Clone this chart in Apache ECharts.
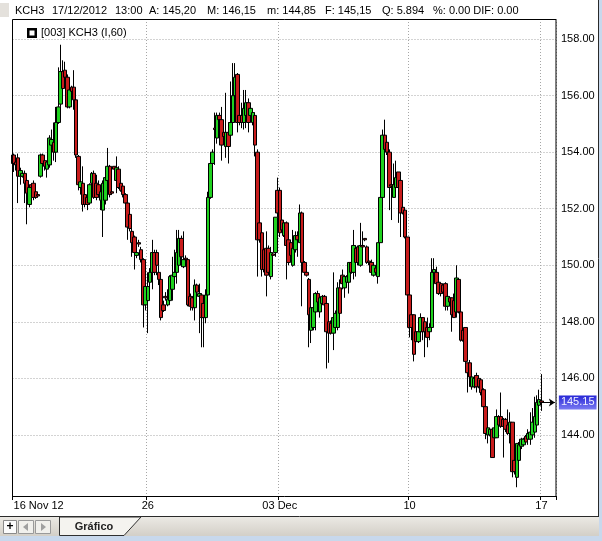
<!DOCTYPE html>
<html><head><meta charset="utf-8">
<script src="https://cdn.jsdelivr.net/npm/echarts/dist/echarts.min.js"></script>
<style>html,body{margin:0;padding:0;background:#fff;overflow:hidden}#c{width:602px;height:541px}</style>
</head><body><div id="c"></div><script>
// KCH3 hourly candles, 16 Nov 2012 - 17 Dec 2012
const open = [153.90,153.65,153.80,153.15,153.15,153.25,153.00,152.15,152.85,152.90,
152.60,152.50,153.15,153.90,153.70,153.40,153.55,154.25,154.35,154.00,
155.05,155.70,156.85,156.90,156.65,155.60,156.30,156.30,155.85,153.85,
152.75,152.90,152.50,152.40,152.20,152.90,153.25,152.90,152.85,152.30,
151.95,152.30,153.00,153.50,152.60,153.50,153.00,153.40,152.90,152.80,
152.50,152.20,151.80,151.20,151.00,150.35,150.80,150.55,150.20,148.60,
148.75,149.40,149.75,150.45,150.45,149.75,149.50,148.60,148.90,148.60,
148.75,149.15,149.60,149.75,150.00,150.95,149.95,150.25,150.20,148.90,
148.85,148.50,149.30,148.90,148.95,148.65,148.15,148.95,152.40,153.60,
154.85,154.50,155.30,155.15,154.70,154.20,154.70,154.60,155.05,156.00,
156.75,155.30,155.30,155.05,155.30,155.75,155.30,155.05,155.30,154.00,
151.50,151.15,150.55,150.60,150.60,149.60,150.40,150.45,152.65,152.65,
151.60,151.05,151.50,150.90,150.80,150.00,150.55,151.05,150.80,151.85,
150.10,149.75,149.50,147.70,147.80,148.35,149.00,148.35,148.65,148.90,
148.65,148.00,147.95,147.60,147.80,147.80,149.20,149.65,149.20,149.40,
149.40,150.10,149.75,150.60,150.65,150.00,150.70,150.95,150.65,150.15,
150.10,149.65,149.90,149.60,150.80,152.40,154.60,154.35,154.00,152.85,
152.40,152.75,153.30,153.00,152.05,151.95,151.00,148.95,148.25,148.25,
147.65,147.30,147.65,148.15,148.00,147.80,147.65,147.80,149.75,149.75,
149.40,149.35,149.30,149.35,148.55,148.85,148.85,148.75,148.35,149.50,
148.35,147.70,147.80,146.55,146.55,145.70,145.70,146.10,146.00,145.95,
145.60,145.00,144.00,144.00,144.20,143.90,143.90,144.65,144.65,144.55,
144.55,144.35,144.05,144.45,143.10,142.50,143.10,143.60,143.65,143.95,
143.85,143.85,144.00,144.10,144.35,145.05,145.20];
const close = [153.60,153.55,153.15,153.35,153.25,152.90,152.55,152.75,152.75,152.40,
152.40,152.45,153.90,153.60,153.50,153.65,154.50,154.45,154.00,155.05,
155.60,156.85,156.25,156.65,155.60,156.20,156.15,155.85,153.90,152.85,
152.95,152.15,152.15,152.15,152.85,153.25,152.40,152.40,152.50,152.60,
152.90,153.10,153.50,152.50,152.55,153.40,153.45,152.75,152.65,152.50,
152.20,151.35,151.30,150.80,150.45,150.45,150.75,150.20,148.60,149.25,
149.25,149.75,150.45,149.75,150.00,149.50,148.15,148.40,148.85,148.80,
149.60,149.65,149.75,150.45,150.95,150.30,150.20,150.20,148.60,148.55,
148.50,149.30,149.05,149.00,148.15,148.15,148.95,152.40,153.60,154.00,
154.80,155.30,155.15,154.25,154.55,154.70,154.20,155.05,156.00,156.65,
155.05,155.05,155.05,155.55,155.75,155.05,155.55,155.40,154.25,150.90,
150.90,149.85,149.85,149.65,149.75,150.45,150.35,151.70,151.85,151.15,
151.25,151.50,150.70,150.10,150.35,150.60,151.05,150.90,151.85,150.10,
149.75,149.65,148.25,148.50,148.50,149.00,148.70,148.85,148.90,148.60,
147.65,147.60,147.60,148.15,148.30,149.20,148.30,149.35,149.60,149.60,
150.10,149.75,150.70,150.10,150.10,150.70,150.65,150.90,150.10,150.10,
149.75,150.00,149.75,150.80,152.40,154.60,154.10,154.00,152.75,152.80,
152.85,153.10,152.75,151.85,151.85,151.00,148.95,147.80,147.80,146.85,
147.30,147.65,148.15,147.65,147.65,147.45,147.80,149.75,149.85,149.35,
149.00,149.00,149.05,148.55,148.90,148.70,148.25,148.15,149.55,148.35,
147.35,147.35,146.60,146.20,146.05,146.05,146.00,145.70,145.70,145.50,
145.00,144.05,144.25,144.20,143.20,144.25,144.65,144.35,144.30,144.30,
144.20,144.05,144.45,142.70,142.70,143.70,143.65,143.85,143.85,143.75,
144.05,144.10,144.45,144.65,145.15,145.25,145.15];
const high = [153.95,153.70,153.95,153.45,153.30,153.35,153.10,152.85,152.90,153.00,
152.65,152.55,153.95,153.95,153.80,153.70,154.60,154.80,155.05,155.60,
157.00,157.80,157.25,157.20,156.75,156.25,156.35,156.90,155.90,153.90,
153.10,153.50,152.55,152.50,152.90,153.30,153.35,153.20,153.00,152.75,
153.00,153.20,154.15,153.55,152.65,153.50,153.85,153.50,153.00,152.85,
152.55,152.25,151.90,151.55,151.05,150.55,150.90,150.65,150.25,149.35,
149.75,149.90,150.90,150.55,150.55,150.00,149.60,148.75,149.05,149.15,
149.65,150.30,150.55,151.25,151.25,151.05,151.20,150.35,150.25,149.00,
148.90,149.50,149.35,149.35,149.00,148.75,149.15,152.60,153.65,154.10,
155.40,155.40,155.40,155.60,154.85,156.10,155.05,156.50,157.15,157.15,
156.80,155.40,155.75,156.20,156.20,155.90,155.65,155.50,155.40,154.10,
151.60,151.25,150.60,151.20,150.70,150.65,150.45,151.70,153.10,152.75,
151.65,151.60,151.55,150.95,150.85,151.25,151.20,151.20,152.15,151.90,
150.15,149.75,149.55,148.55,148.55,149.05,149.10,148.95,148.95,148.95,
148.70,148.05,148.05,149.75,148.40,149.40,149.50,149.85,149.60,149.65,
150.10,150.15,151.25,150.70,150.70,151.50,151.20,150.95,150.70,150.20,
150.20,150.10,150.00,150.80,153.00,154.80,155.15,154.45,154.10,153.00,
153.60,153.70,153.30,153.10,152.10,152.05,151.00,148.95,148.30,148.25,
147.70,147.70,148.30,148.15,148.05,148.15,147.95,150.25,150.25,149.95,
149.50,149.35,149.35,149.40,148.95,148.90,148.85,149.00,150.00,149.55,
148.40,147.80,147.80,146.55,146.65,146.20,146.10,146.20,146.10,146.00,
145.65,145.00,144.35,144.25,144.25,144.35,144.90,144.70,145.50,144.60,
144.60,144.90,144.80,144.45,143.20,143.70,143.75,143.90,143.90,144.00,
144.20,144.80,144.95,145.35,145.40,145.60,146.15];
const low = [153.30,153.35,152.20,152.85,153.10,152.20,151.45,152.05,152.50,152.30,
152.35,152.40,153.10,153.55,153.35,153.10,153.45,154.10,153.70,153.65,
155.00,155.60,156.15,156.55,155.55,155.55,156.05,155.50,153.80,152.65,
152.50,151.90,152.05,151.95,152.15,152.40,152.35,152.30,152.40,151.95,
151.00,152.15,152.65,152.40,152.50,153.35,152.55,152.70,152.60,152.40,
152.15,150.90,151.20,150.30,149.85,150.25,150.65,150.10,147.80,148.40,
147.60,149.15,149.15,149.65,149.65,149.30,148.05,148.35,148.75,148.55,
148.70,148.75,149.50,149.35,149.90,149.95,149.90,150.10,148.55,148.40,
148.40,148.05,148.95,147.60,147.10,147.10,147.95,148.90,152.35,153.55,
153.55,154.30,154.95,153.70,154.45,153.80,153.60,154.30,154.80,155.05,
154.70,154.95,154.85,154.80,154.85,154.70,155.20,154.95,153.85,149.60,
150.80,149.60,149.75,148.90,149.65,149.50,150.25,150.30,151.70,151.00,
151.20,151.00,149.50,150.00,150.25,149.95,150.45,150.30,150.80,148.55,
149.70,149.60,147.10,147.25,147.70,147.70,148.65,148.15,148.60,148.55,
146.35,146.55,147.55,147.00,147.75,147.70,148.15,149.15,148.85,149.35,
149.00,149.70,149.50,149.60,150.00,149.95,150.30,150.85,150.05,150.00,
149.65,149.60,149.65,149.35,150.80,152.40,153.50,153.90,151.95,151.60,
152.40,152.65,151.50,151.00,151.80,150.95,148.55,147.45,147.35,146.60,
147.20,147.25,147.60,147.35,146.75,147.10,147.35,147.80,149.35,149.30,
148.95,148.90,149.00,148.40,148.40,148.65,147.65,148.15,148.15,148.30,
147.30,147.30,146.30,145.50,145.70,145.60,145.65,145.50,145.65,145.40,
144.20,143.85,143.70,143.95,143.20,143.70,143.90,144.30,144.25,143.20,
144.10,144.00,143.70,142.50,142.60,142.15,143.00,143.50,143.60,143.70,
143.65,143.65,143.95,143.90,144.30,144.95,144.85];

const tickIndex = [0, 60, 119, 177, 236];
const tickText  = ['16 Nov 12', '26', '03 Dec', '10', '17'];
const priceTicks = [144, 146, 148, 150, 152, 154, 156, 158];
const header = [['KCH3',15],['17/12/2012',52],['13:00',115],['A: 145,20',149],['M: 146,15',207],
                ['m: 144,85',267],['F: 145,15',325],['Q: 5.894',382],['%: 0.00 DIF: 0.00',433]];

const PAD = 6;
const M = open.length;
const N = M + PAD;
const cats = Array.from({length: N}, (_, i) => 'c' + i);
const labelOf = {};
tickIndex.forEach((idx, k) => { labelOf[idx] = tickText[k]; });
const candles = open.map((o, i) => [o, close[i], Math.min(low[i], o, close[i]), Math.max(high[i], o, close[i])]);
const lastClose = close[M - 1];
const FONT = '"Liberation Sans", Arial, sans-serif';

const chart = echarts.init(document.getElementById('c'), null, {renderer: 'canvas'});
const isTick = (i) => Object.prototype.hasOwnProperty.call(labelOf, i);

const graphic = [
  {type: 'rect', shape: {x: 0, y: 3, width: 9, height: 14}, style: {fill: '#e4e1dc'}},
  ...header.map(([t, x]) => ({type: 'text', x: x, y: 11, style: {text: t, font: '11px ' + FONT, fill: '#000', textVerticalAlign: 'middle'}})),
  {type: 'rect', shape: {x: 27, y: 28, width: 10, height: 10}, style: {fill: '#000'}},
  {type: 'rect', shape: {x: 29.5, y: 30.5, width: 5, height: 5}, style: {fill: '#fff'}},
  {type: 'text', x: 41, y: 33, style: {text: '[003] KCH3 (I,60)', font: '11px ' + FONT, fill: '#000', textVerticalAlign: 'middle'}},
  // plot frame
  {type: 'rect', z: 100, silent: true, shape: {x: 12.5, y: 19.5, width: 543.5, height: 477}, style: {fill: null, stroke: '#000', lineWidth: 1}},
  // window frame
  {type: 'rect', shape: {x: 599, y: 0, width: 3, height: 541}, style: {fill: '#c8d8ec'}},
  {type: 'line', shape: {x1: 598.5, y1: 0, x2: 598.5, y2: 517}, style: {stroke: '#2a2a2a', lineWidth: 1}},
  // tab bar
  {type: 'rect', shape: {x: 0, y: 517, width: 599, height: 19},
   style: {fill: new echarts.graphic.LinearGradient(0, 0, 0, 1, [{offset: 0, color: '#ebe9e4'}, {offset: 1, color: '#d3cfc7'}])}},
  {type: 'line', shape: {x1: 0, y1: 516.5, x2: 599, y2: 516.5}, style: {stroke: '#2a2a2a', lineWidth: 1}},
  {type: 'rect', shape: {x: 0, y: 536, width: 602, height: 5}, style: {fill: '#c8d8ec'}},
  {type: 'rect', shape: {x: 3.5, y: 520.5, width: 13, height: 13}, style: {fill: '#fbfbfb', stroke: '#8a8a8a'}},
  {type: 'text', x: 10, y: 527, style: {text: '+', font: 'bold 12px ' + FONT, fill: '#000', align: 'center', verticalAlign: 'middle'}},
  {type: 'rect', shape: {x: 18.5, y: 520.5, width: 15, height: 13}, style: {fill: '#f1f0ec', stroke: '#9a9a9a'}},
  {type: 'polygon', shape: {points: [[28, 523], [28, 531], [23, 527]]}, style: {fill: '#a0a0a0'}},
  {type: 'rect', shape: {x: 35.5, y: 520.5, width: 15, height: 13}, style: {fill: '#f1f0ec', stroke: '#9a9a9a'}},
  {type: 'polygon', shape: {points: [[41, 523], [41, 531], [46, 527]]}, style: {fill: '#a0a0a0'}},
  {type: 'polygon', shape: {points: [[59.5, 517], [59.5, 535.5], [124, 535.5], [141, 517]]}, style: {fill: '#f4f3ef', stroke: '#303030', lineWidth: 1}},
  {type: 'text', x: 94, y: 527, style: {text: 'Gráfico', font: 'bold 11px ' + FONT, fill: '#222', align: 'center', verticalAlign: 'middle'}}
];

chart.setOption({
  animation: false,
  backgroundColor: '#ffffff',
  textStyle: {fontFamily: FONT},
  grid: {left: 12.5, top: 19, right: 46, bottom: 45, show: false},
  xAxis: {
    type: 'category', data: cats, boundaryGap: true,
    axisLine: {show: false},
    axisTick: {show: true, interval: (i) => isTick(i), length: 4, lineStyle: {color: '#000'}},
    axisLabel: {
      interval: (i) => isTick(i), margin: 4, color: '#000', fontSize: 11, fontFamily: FONT,
      formatter: (v, i) => i === 0 ? '{first|' + labelOf[i] + '}' : (labelOf[i] || ''),
      rich: {first: {padding: [0, 0, 0, 50], fontSize: 11, color: '#000', fontFamily: FONT}}
    },
    splitLine: {show: true, interval: (i) => isTick(i) && i !== 0, lineStyle: {color: '#a6a6a6', type: [1, 2], width: 1}}
  },
  yAxis: {
    type: 'value', position: 'right', min: 141.84, max: 158.71,
    minInterval: 2, maxInterval: 2,
    axisLine: {show: false},
    axisTick: {show: false, customValues: priceTicks},
    axisLabel: {customValues: priceTicks, margin: 5, color: '#000', fontSize: 11, fontFamily: FONT,
      formatter: (v) => priceTicks.indexOf(Math.round(v * 100) / 100) >= 0 ? v.toFixed(2) : ''},
    splitLine: {show: true, lineStyle: {color: '#a6a6a6', type: [1, 2], width: 1}}
  },
  series: [{
    type: 'candlestick', data: candles, barWidth: 4,
    itemStyle: {color: '#1fd21f', color0: '#c81c1c', borderColor: '#000', borderColor0: '#000', borderColorDoji: '#000', borderWidth: 1},
    markLine: {
      silent: true, animation: false, symbol: ['none', 'arrow'], symbolSize: 6,
      lineStyle: {color: '#000', type: 'solid', width: 1},
      label: {show: true, position: 'end', distance: 4, formatter: () => lastClose.toFixed(2),
        color: '#f0f0ff', fontSize: 11, fontFamily: FONT, padding: [2, 2, 1, 2],
        backgroundColor: new echarts.graphic.LinearGradient(0, 0, 0, 1, [{offset: 0, color: '#2626d6'}, {offset: 1, color: '#7a7af2'}])},
      data: [[{coord: [M - 1, lastClose]}, {coord: [N - 1, lastClose]}]]
    }
  }],
  graphic: graphic
});
</script></body></html>
